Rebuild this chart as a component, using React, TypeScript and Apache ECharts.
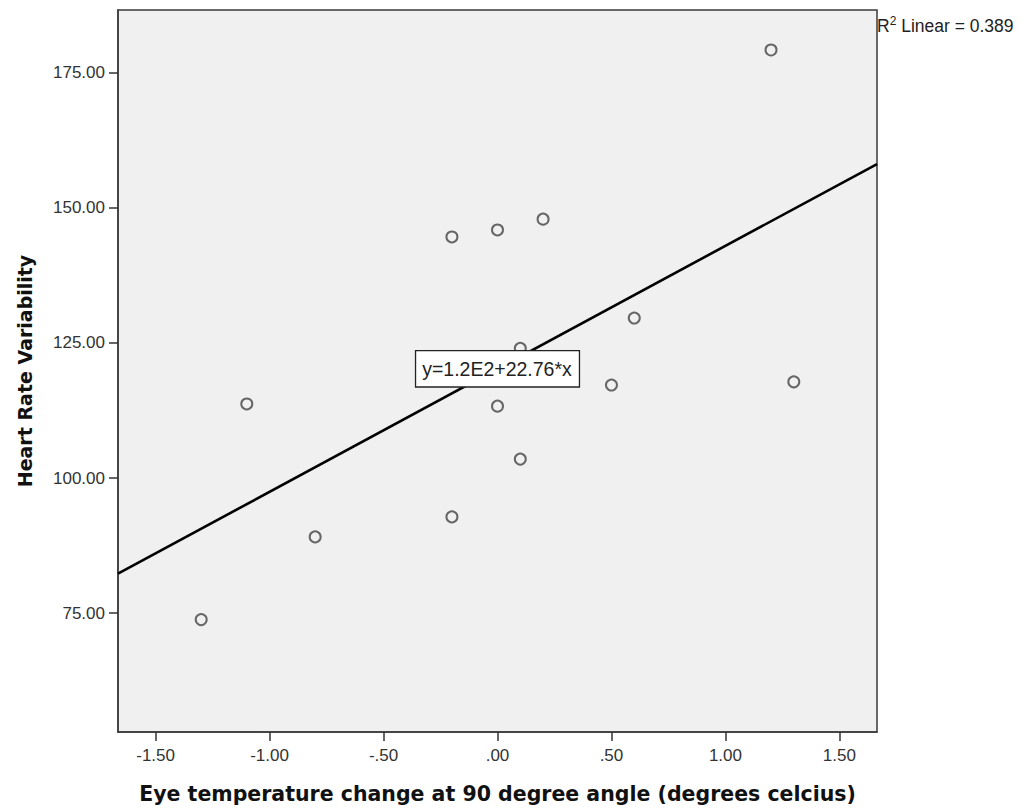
import React, { useEffect, useRef } from "react";
import * as echarts from "echarts";

const eyeTempChange = [1.2, 1.3, 0.6, 0.5, 0.2, 0.0, -0.2, 0.1, 0.0, 0.1, -0.2, -0.8, -1.1, -1.3];
const heartRateVar = [179.2, 117.8, 129.6, 117.2, 147.9, 145.9, 144.6, 124.0, 113.3, 103.5, 92.8, 89.1, 113.7, 73.8];
const xTicks = [-1.5, -1.0, -0.5, 0.0, 0.5, 1.0, 1.5];
const yTicks = [75, 100, 125, 150, 175];
const xRange = [-1.665, 1.665];
const yRange = [53.0, 186.6];
const fitIntercept = 120.2;
const fitSlope = 22.76;
const fitLabel = "y=1.2E2+22.76*x";
const r2Text = "0.389";

const FONT = 'Arial, "Liberation Sans", sans-serif';
const TITLE_FONT = '"DejaVu Sans", Verdana, sans-serif';

function spss(v: number): string {
  let s = v.toFixed(2);
  if (s.startsWith("0.")) s = s.slice(1);
  else if (s.startsWith("-0.")) s = "-" + s.slice(2);
  if (s === "-.00") s = ".00";
  return s;
}

export default function App() {
  const ref = useRef<HTMLDivElement>(null);
  useEffect(() => {
    if (!ref.current) return;
    const chart = echarts.init(ref.current, undefined, { renderer: "svg" });
    const points = eyeTempChange.map((x, i) => [x, heartRateVar[i]]);
    const fitLine = xRange.map((x) => [x, fitIntercept + fitSlope * x]);
    chart.setOption({
      animation: false,
      backgroundColor: "#ffffff",
      grid: {
        left: 118,
        top: 10,
        right: 144,
        bottom: 77,
        show: true,
        backgroundColor: "#f0f0f0",
        borderColor: "#3a3a3a",
        borderWidth: 1.5,
      },
      xAxis: {
        type: "value",
        min: xRange[0],
        max: xRange[1],
        name: "Eye temperature change at 90 degree angle (degrees celcius)",
        nameLocation: "middle",
        nameGap: 51,
        nameTextStyle: { fontFamily: TITLE_FONT, fontSize: 20.5, fontWeight: "bold", color: "#111" },
        axisLine: { show: true, onZero: false, lineStyle: { color: "#3a3a3a", width: 1.5 } },
        splitLine: { show: false },
        axisTick: {
          show: true,
          length: 9,
          customValues: xTicks,
          lineStyle: { color: "#333", width: 1.5 },
        },
        axisLabel: {
          customValues: xTicks,
          formatter: (v: number) => spss(v),
          margin: 15,
          fontFamily: FONT,
          fontSize: 17,
          color: "#333",
        },
      },
      yAxis: {
        type: "value",
        min: yRange[0],
        max: yRange[1],
        name: "Heart Rate Variability",
        nameLocation: "middle",
        nameGap: 84,
        nameTextStyle: { fontFamily: TITLE_FONT, fontSize: 19, fontWeight: "bold", color: "#111" },
        axisLine: { show: true, onZero: false, lineStyle: { color: "#3a3a3a", width: 1.5 } },
        splitLine: { show: false },
        axisTick: {
          show: true,
          length: 9,
          customValues: yTicks,
          lineStyle: { color: "#333", width: 1.5 },
        },
        axisLabel: {
          customValues: yTicks,
          formatter: (v: number) => spss(v),
          margin: 13,
          fontFamily: FONT,
          fontSize: 17,
          color: "#333",
        },
      },
      graphic: [
        {
          type: "text",
          left: 877,
          top: 15,
          style: {
            text: "{r|R}{sup|2}{r| Linear = " + r2Text + "}",
            rich: {
              r: { fontFamily: FONT, fontSize: 17.5, fill: "#222", verticalAlign: "bottom", lineHeight: 20 },
              sup: { fontFamily: FONT, fontSize: 12, fill: "#222", verticalAlign: "top", lineHeight: 20 },
            },
          },
        },
      ],
      series: [
        {
          type: "line",
          data: fitLine,
          showSymbol: false,
          symbol: "none",
          lineStyle: { color: "#000", width: 2.6 },
          z: 2,
          markPoint: {
            symbol: "circle",
            symbolSize: 1,
            itemStyle: { color: "rgba(0,0,0,0)" },
            label: {
              show: true,
              position: "inside",
              formatter: fitLabel,
              fontFamily: FONT,
              fontSize: 19.5,
              color: "#222",
              backgroundColor: "#ffffff",
              borderColor: "#222",
              borderWidth: 1.3,
              padding: [8, 7, 7, 6],
            },
            data: [{ coord: [0, fitIntercept] }],
            z: 5,
          },
        },
        {
          type: "scatter",
          data: points,
          symbol: "circle",
          symbolSize: 11,
          itemStyle: { color: "rgba(0,0,0,0)", borderColor: "#444", borderWidth: 2 },
          z: 3,
        },
      ],
    });
    return () => chart.dispose();
  }, []);
  return (
    <div
      ref={ref}
      style={{ position: "fixed", left: 0, top: 0, width: 1021, height: 809 }}
    />
  );
}
